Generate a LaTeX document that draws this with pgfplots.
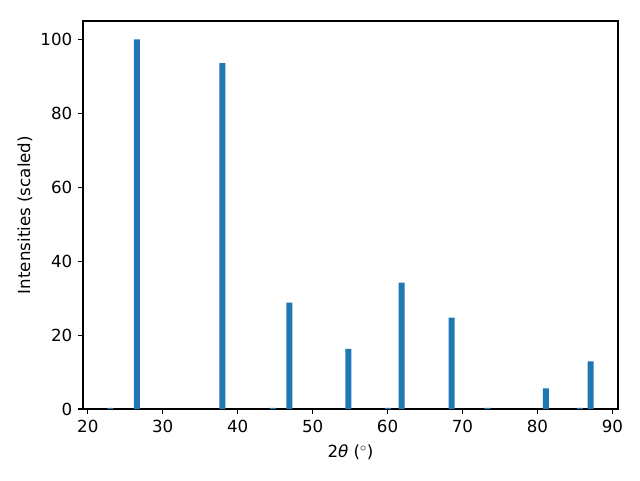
\documentclass[border=0pt]{standalone}
\usepackage{fontspec}
\setmainfont{DejaVu Sans}
\usepackage{pgfplots}
\pgfplotsset{compat=1.18}
\definecolor{mplblue}{HTML}{1F77B4}
\begin{document}
\fontsize{12.5}{15}\selectfont
\begin{tikzpicture}
\useasboundingbox (-62.25pt,-53.25pt) rectangle (417.75pt,306.75pt);
\begin{axis}[
  at={(0,0)}, anchor=south west,
  scale only axis,
  width=401.25pt, height=291pt,
  xmin=19.36, xmax=90.75,
  ymin=0, ymax=105,
  xtick={20,30,...,90},
  ytick={0,20,...,100},
  tick pos=left,
  tick align=outside,
  major tick length=3.65pt,
  every tick/.style={black, line width=0.83pt},
  axis line style={line width=0.83pt},
  /pgf/number format/assume math mode=true,
  ticklabel style={font=\fontsize{12.5}{15}\selectfont},
  xticklabel style={yshift=-0.5pt},
  label style={font=\fontsize{12.5}{15}\selectfont},
  xlabel={2\textit{θ} ($^\circ$)},
  ylabel={Intensities (scaled)},
  every axis x label/.style={at={(axis description cs:0.5,-0.111)}, anchor=center},
  every axis y label/.style={at={(axis description cs:-0.1084,0.5)}, rotate=90, anchor=center},
]
\addplot[ybar, bar width=0.8, fill=mplblue, draw=none] coordinates {
(23.00,0.3)
(26.55,100)
(37.96,93.6)
(44.69,0.3)
(46.90,28.8)
(54.76,16.3)
(60.09,0.3)
(61.87,34.2)
(68.55,24.7)
(73.32,0.3)
(81.12,5.6)
(85.67,0.3)
(87.09,12.9)
};
\end{axis}
\end{tikzpicture}
\end{document}
